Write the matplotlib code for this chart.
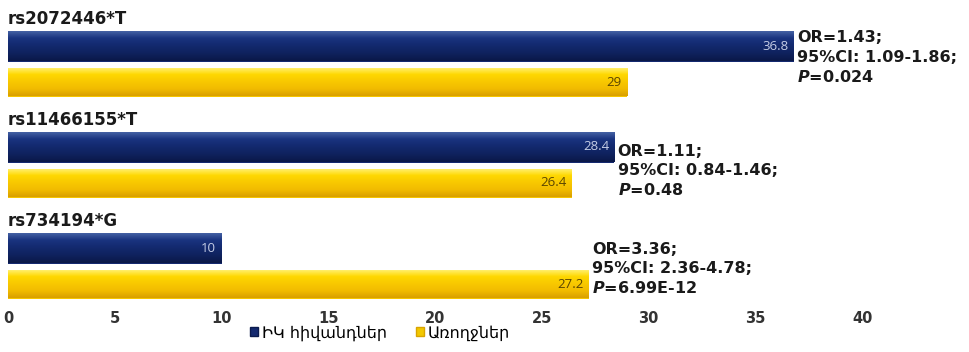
import matplotlib
matplotlib.use("Agg")
import matplotlib.pyplot as plt
import numpy as np
from matplotlib.patches import Patch
from matplotlib.colors import LinearSegmentedColormap

groups = ["rs2072446*T", "rs11466155*T", "rs734194*G"]
patients = [36.8, 28.4, 10]
healthy = [29, 26.4, 27.2]
stats = [
    ("OR=1.43;", "95%CI: 1.09-1.86;", "=0.024"),
    ("OR=1.11;", "95%CI: 0.84-1.46;", "=0.48"),
    ("OR=3.36;", "95%CI: 2.36-4.78;", "=6.99E-12"),
]
legend_labels = ["ԻԿ հիվանդներ", "Առողջներ"]
xticks = [0, 5, 10, 15, 20, 25, 30, 35, 40]

plt.rcParams['mathtext.fontset'] = 'custom'
plt.rcParams['mathtext.it'] = 'DejaVu Sans:italic:bold'
plt.rcParams['mathtext.rm'] = 'DejaVu Sans:bold'

W, H = 969, 352
fig = plt.figure(figsize=(W / 100, H / 100), dpi=100)
ax = fig.add_axes([8 / W, (H - 305) / H, (W - 8) / W, 305 / H])
ax.set_xlim(0, 45)
ax.set_ylim(305, 0)

navy = "#14296f"
yellow = "#f6c500"
navy_cmap = LinearSegmentedColormap.from_list("n", ["#4a67a8", "#1a3480", "#13296e", "#0f225e", "#0a1848"])
yell_cmap = LinearSegmentedColormap.from_list("y", ["#fff27a", "#ffd800", "#f8c800", "#f2bc00", "#d9a000"])
grad = np.linspace(0, 1, 64).reshape(-1, 1)


def grad_bar(y, w, h, cmap, base):
    bars = ax.barh(y, w, height=h, color=base, edgecolor="none", linewidth=0, zorder=2)
    p = bars[0]
    im = ax.imshow(grad, cmap=cmap, aspect="auto", extent=(0, w, y + h / 2, y - h / 2),
                   origin="upper", zorder=3, interpolation="bilinear")
    im.set_clip_path(p)
    return p


pitch = 101
ann_dy = [-8, 4, 1]
line_gap = 19.5
for i, g in enumerate(groups):
    yb = 46 + pitch * i
    yy = yb + 36
    grad_bar(yb, patients[i], 31, navy_cmap, navy)
    grad_bar(yy, healthy[i], 29, yell_cmap, yellow)
    ax.text(patients[i] - 0.25, yb, f"{patients[i]:g}", ha="right", va="center",
            color="#c5cde6", fontsize=9.5, family="Open Sans", zorder=4)
    ax.text(healthy[i] - 0.25, yy, f"{healthy[i]:g}", ha="right", va="center",
            color="#5a4500", fontsize=9.5, family="Open Sans", zorder=4)
    ax.text(0, yb - 27, g, ha="left", va="center", fontsize=12, fontweight="bold",
            family="DejaVu Sans", color="#1a1a1a")
    x0 = max(patients[i], healthy[i]) + 0.15
    lines = [stats[i][0], stats[i][1], r"$P$" + stats[i][2]]
    for k, s in enumerate(lines):
        ax.text(x0, yb + ann_dy[i] + k * line_gap, s, ha="left", va="center",
                fontsize=11.5, fontweight="bold", family="DejaVu Sans", color="#1a1a1a")

ax.set_xticks(xticks)
ax.set_xticklabels([str(t) for t in xticks], fontweight="bold", fontsize=10.5,
                   family="DejaVu Sans", color="#333333")
ax.set_yticks([])
ax.tick_params(axis="x", length=0, pad=4)
for sp in ax.spines.values():
    sp.set_visible(False)

handles = [Patch(facecolor=navy, edgecolor="#0b1a4d"), Patch(facecolor="#f2c800", edgecolor="#d9a400")]
fig.legend(handles, legend_labels, loc="center", bbox_to_anchor=(380 / W, 1 - 333 / H),
           ncol=2, frameon=False, prop={"family": "DejaVu Sans", "size": 11.5},
           handlelength=0.5, handleheight=0.5, handletextpad=0.25, columnspacing=1.8,
           borderpad=0)

fig.savefig("out.png", dpi=100)
